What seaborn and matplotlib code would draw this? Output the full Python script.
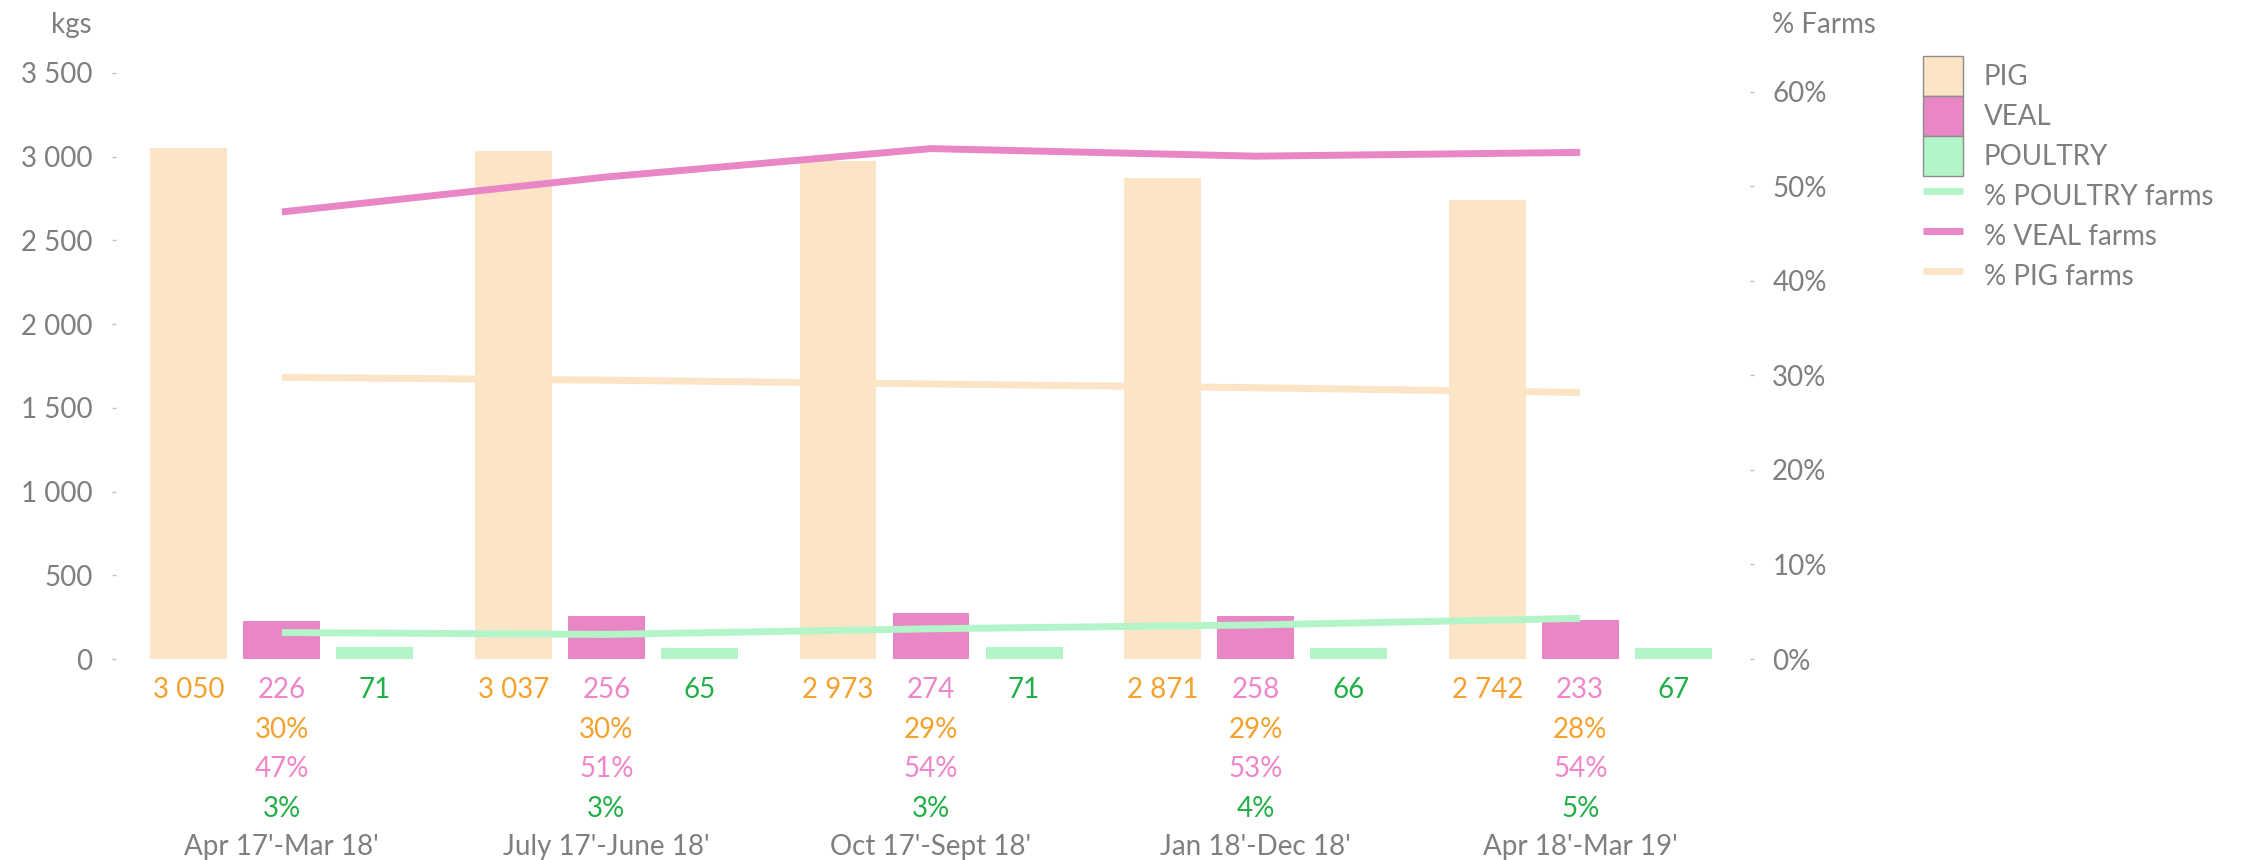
# Importing dependencies
import numpy as np
import pandas as pd
import matplotlib.pyplot as plt
import matplotlib.transforms as mtransforms
from matplotlib.patches import Patch
from matplotlib.lines import Line2D
from matplotlib.ticker import FuncFormatter
import seaborn as sns

# SECTION DATA
periods = ["Apr 17'-Mar 18'", "July 17'-June 18'", "Oct 17'-Sept 18'",
           "Jan 18'-Dec 18'", "Apr 18'-Mar 19'"]
animals = ["PIG", "VEAL", "POULTRY"]

pig_kgs = [3050, 3037, 2973, 2871, 2742]
veal_kgs = [226, 256, 274, 258, 233]
poultry_kgs = [71, 65, 71, 66, 67]

# % of farms (line values, labels are the rounded ones)
pig_pct = [29.8, 29.5, 29.1, 28.7, 28.2]
veal_pct = [47.3, 51.0, 54.0, 53.2, 53.6]
poultry_pct = [2.8, 2.6, 3.2, 3.6, 4.3]

pig_pct_labels = ["30%", "30%", "29%", "29%", "28%"]
veal_pct_labels = ["47%", "51%", "54%", "53%", "54%"]
poultry_pct_labels = ["3%", "3%", "3%", "4%", "5%"]

# SECTION STYLE SETTINGS
pig_color = "#FCE4C6"
veal_color = "#E886C6"
poultry_color = "#B3F5C9"
pig_text = "#F4A12E"
veal_text = "#EE86C9"
poultry_text = "#22AF48"
gray = "#7F7F7F"

sns.set_theme(style="white")
plt.rcParams['font.family'] = ['Lato', 'DejaVu Sans']
font_size = 20

# long form table for seaborn
smf = pd.DataFrame({
    'Period': np.repeat(periods, len(animals)),
    'Animal': animals * len(periods),
    'Kgs': [v for trio in zip(pig_kgs, veal_kgs, poultry_kgs) for v in trio],
})

fig = plt.figure(figsize=(22.42, 8.6), dpi=100)
ax = fig.add_axes([116 / 2242, 1 - 659 / 860, (1750 - 116) / 2242, (659 - 73) / 860])

sns.barplot(data=smf, x='Period', y='Kgs', hue='Animal', hue_order=animals,
            palette={'PIG': pig_color, 'VEAL': veal_color, 'POULTRY': poultry_color},
            saturation=1, width=0.86, gap=0.174, linewidth=0, legend=False, ax=ax)

# right axis with the % lines
ax2 = ax.twinx()
xpos = np.arange(len(periods))
sns.lineplot(x=xpos, y=pig_pct, ax=ax2, color=pig_color, linewidth=5, solid_capstyle='butt')
sns.lineplot(x=xpos, y=veal_pct, ax=ax2, color=veal_color, linewidth=5, solid_capstyle='butt')
sns.lineplot(x=xpos, y=poultry_pct, ax=ax2, color=poultry_color, linewidth=5, solid_capstyle='butt')

ax.set_xlim(-0.511, 4.523)
ax.set_ylim(0, 3500)
ax2.set_ylim(0, 62.0)

ax.set_yticks(range(0, 3501, 500))
ax.yaxis.set_major_formatter(FuncFormatter(lambda v, p: f"{int(v):,}".replace(",", " ")))
ax2.set_yticks(range(0, 61, 10))
ax2.yaxis.set_major_formatter(FuncFormatter(lambda v, p: f"{int(v)}%"))

ax.set_xticks([])
ax.set_xlabel('')
ax.set_ylabel('')
ax2.set_ylabel('')
for a in (ax, ax2):
    for s in a.spines.values():
        s.set_visible(False)
ax.tick_params(axis='y', left=True, length=3, width=1, color='#BFBFBF',
               labelsize=font_size, labelcolor=gray, pad=14)
ax2.tick_params(axis='y', right=True, length=3, width=1, color='#BFBFBF',
                labelsize=font_size, labelcolor=gray, pad=13)

# labels below the bars (baselines in pixels from the top)
trans = mtransforms.blended_transform_factory(ax.transData, fig.transFigure)
label_sets = [(pig_kgs, pig_text), (veal_kgs, veal_text), (poultry_kgs, poultry_text)]
for container, (vals, col) in zip(ax.containers, label_sets):
    for bar, v in zip(container, vals):
        cx = bar.get_x() + bar.get_width() / 2
        ax.text(cx, 1 - 698 / 860, f"{v:,}".replace(",", " "), transform=trans,
                ha='center', va='baseline', color=col, fontsize=font_size)

rows = [(pig_pct_labels, pig_text, 738), (veal_pct_labels, veal_text, 777),
        (poultry_pct_labels, poultry_text, 817)]
for labels, col, ypix in rows:
    for i, lab in enumerate(labels):
        ax.text(i, 1 - ypix / 860, lab, transform=trans, ha='center', va='baseline',
                color=col, fontsize=font_size)

for i, per in enumerate(periods):
    ax.text(i, 1 - 855 / 860, per, transform=trans, ha='center', va='baseline',
            color=gray, fontsize=font_size)

# axis titles
fig.text(71 / 2242, 1 - 33 / 860, "kgs", ha='center', va='baseline', color=gray, fontsize=font_size)
fig.text(1772 / 2242, 1 - 33 / 860, "% Farms", ha='left', va='baseline', color=gray, fontsize=font_size)

# legend
handles = [
    Patch(facecolor=pig_color, edgecolor='#8C8C8C', linewidth=1),
    Patch(facecolor=veal_color, edgecolor='#8C8C8C', linewidth=1),
    Patch(facecolor=poultry_color, edgecolor='#8C8C8C', linewidth=1),
    Line2D([0], [0], color=poultry_color, linewidth=5, solid_capstyle='butt'),
    Line2D([0], [0], color=veal_color, linewidth=5, solid_capstyle='butt'),
    Line2D([0], [0], color=pig_color, linewidth=5, solid_capstyle='butt'),
]
legend_labels = ["PIG", "VEAL", "POULTRY", "% POULTRY farms", "% VEAL farms", "% PIG farms"]
fig.legend(handles, legend_labels, loc='upper left', bbox_to_anchor=(1923 / 2242, 1 - 56 / 860),
           frameon=False, borderpad=0, borderaxespad=0, handlelength=1.43, handleheight=1.84,
           labelspacing=0, handletextpad=0.75, fontsize=font_size, labelcolor=gray)

fig.savefig('out.png', dpi=100)
